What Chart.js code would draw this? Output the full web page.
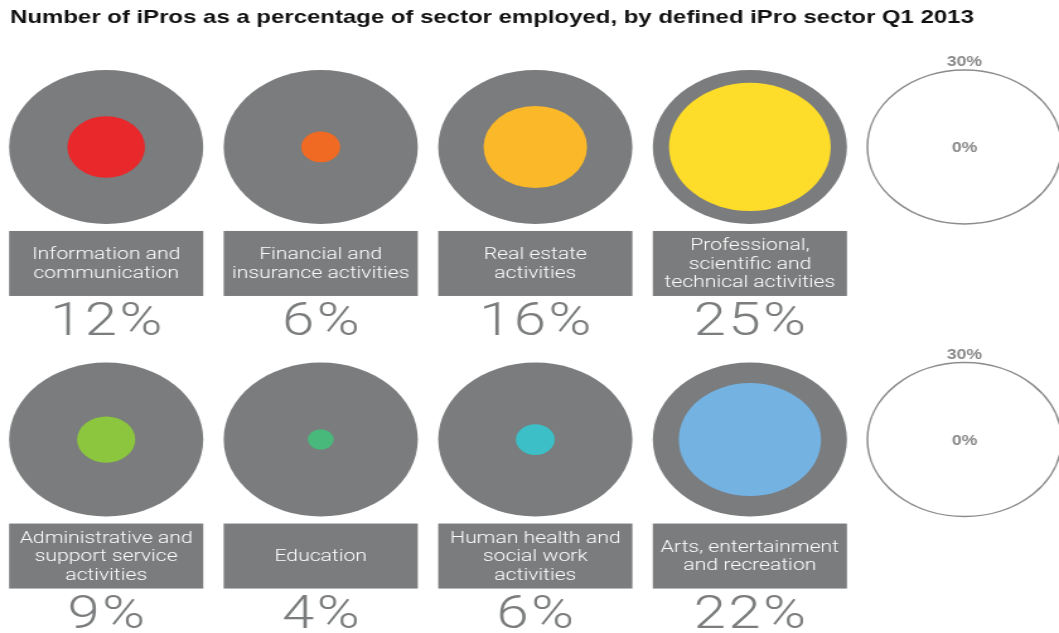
<!DOCTYPE html>
<html>
<head>
<meta charset="utf-8">
<script src="https://cdn.jsdelivr.net/npm/chart.js@4"></script>
<style>
  html, body { margin: 0; padding: 0; background: #fff; overflow: hidden; }
  #ipros { display: block; }
</style>
</head>
<body>
<!-- drawn at 840px wide, shown stretched to the full window width -->
<canvas id="ipros" width="840" height="633" style="width:1059px;height:633px"></canvas>
<script>
const chartTitle = 'Number of iPros as a percentage of sector employed, by defined iPro sector Q1 2013';

const sectorLines = [
  ['Information and', 'communication'],
  ['Financial and', 'insurance activities'],
  ['Real estate', 'activities'],
  ['Professional,', 'scientific and', 'technical activities'],
  ['Administrative and', 'support service', 'activities'],
  ['Education'],
  ['Human health and', 'social work', 'activities'],
  ['Arts, entertainment', 'and recreation']
];
const shares = [12, 6, 16, 25, 9, 4, 6, 22];   // % of sector employed
const scaleMax = 30;
const scaleLabels = ['30%', '0%'];

const sectorColors = ['#e8282b', '#f06a24', '#fbb92a', '#fddc2a', '#8cc63e', '#49b97b', '#3cbfc7', '#74b2e2'];
const grey = '#7a7c7d';

// panel grid: 4 sector columns + key column, two rows (y in size units)
const rowY = [40, 154];
const colOf = i => i % 4;
const rowOf = i => rowY[Math.floor(i / 4)];

// radius in pixels for a share, measured on the y scale
function sizeToPx(chart, v) {
  const y = chart.scales.y;
  return Math.abs(y.getPixelForValue(v) - y.getPixelForValue(0));
}
const radius = ctx => sizeToPx(ctx.chart, ctx.raw.size);

const panelText = {
  id: 'panelText',
  afterDatasetsDraw(chart) {
    const ctx = chart.ctx;
    const R = sizeToPx(chart, scaleMax);
    ctx.save();

    ctx.fillStyle = '#111';
    ctx.font = 'bold 19px "Liberation Sans", Arial, sans-serif';
    ctx.textAlign = 'left';
    ctx.textBaseline = 'alphabetic';
    ctx.fillText(chartTitle, 8, 23);

    ctx.textAlign = 'center';
    chart.getDatasetMeta(0).data.forEach((pt, i) => {
      const cx = pt.x, cy = pt.y;
      ctx.fillStyle = grey;
      ctx.fillRect(cx - R, cy + 84, 2 * R, 65);

      const lines = sectorLines[i];
      const lh = 18.5;
      const mid = cy + 84 + 32.5 + 1;
      ctx.fillStyle = '#fff';
      ctx.font = '300 16.8px Roboto, "Liberation Sans", sans-serif';
      ctx.textBaseline = 'middle';
      ctx.letterSpacing = '0px';
      lines.forEach((t, k) => {
        ctx.fillText(t, cx, mid + (k - (lines.length - 1) / 2) * lh);
      });

      ctx.fillStyle = grey;
      ctx.font = '300 46px Roboto, "Liberation Sans", sans-serif';
      ctx.textBaseline = 'alphabetic';
      ctx.letterSpacing = '2px';
      ctx.fillText(shares[i] + '%', cx + 1, cy + 188);
      ctx.letterSpacing = '0px';
    });

    // size key
    ctx.fillStyle = '#8a8a8a';
    ctx.font = 'bold 14px "Liberation Sans", Arial, sans-serif';
    chart.getDatasetMeta(2).data.forEach(pt => {
      ctx.fillText(scaleLabels[0], pt.x, pt.y - R - 4);
      ctx.fillText(scaleLabels[1], pt.x, pt.y + 5);
    });
    ctx.restore();
  }
};

new Chart(document.getElementById('ipros'), {
  type: 'scatter',
  data: {
    datasets: [
      {
        label: 'Sector',
        data: shares.map((s, i) => ({ x: colOf(i), y: rowOf(i), size: scaleMax })),
        backgroundColor: grey,
        borderWidth: 0,
        pointRadius: radius,
        pointHoverRadius: radius,
        clip: false,
        order: 2
      },
      {
        label: 'iPros',
        data: shares.map((s, i) => ({ x: colOf(i), y: rowOf(i), size: s })),
        backgroundColor: sectorColors,
        borderWidth: 0,
        pointRadius: radius,
        pointHoverRadius: radius,
        clip: false,
        order: 1
      },
      {
        label: 'Key',
        data: rowY.map(y => ({ x: 4, y: y, size: scaleMax })),
        backgroundColor: '#fff',
        borderColor: '#8c8c8c',
        borderWidth: 1.5,
        pointRadius: radius,
        pointHoverRadius: radius,
        clip: false,
        order: 3
      }
    ]
  },
  options: {
    responsive: false,
    animation: false,
    events: [],
    layout: { padding: { top: 44.3, bottom: 75.4, left: 84.2, right: 75 } },
    scales: {
      x: { type: 'linear', min: 0, max: 4, display: false },
      y: { type: 'linear', min: 0, max: 200, reverse: true, display: false }
    },
    plugins: {
      legend: { display: false },
      tooltip: { enabled: false }
    }
  },
  plugins: [panelText]
});
</script>
</body>
</html>
